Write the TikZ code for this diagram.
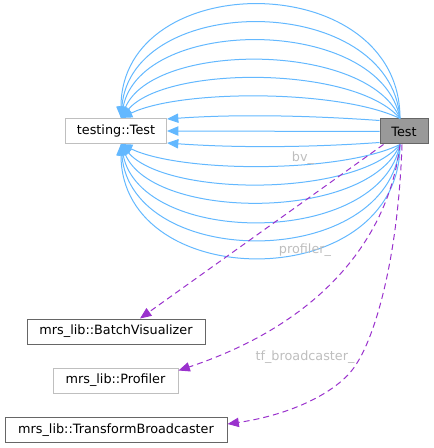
\documentclass[tikz,border=0pt]{standalone}
\usepackage{fontspec}
\setmainfont{DejaVu Sans}
\usetikzlibrary{arrows.meta,calc}

\definecolor{edgeblue}{HTML}{63B8FF}
\definecolor{edgeorchid}{HTML}{9A32CD}
\definecolor{boxdark}{HTML}{666666}
\definecolor{boxlight}{HTML}{BFBFBF}
\definecolor{boxfill}{HTML}{999999}
\definecolor{labelgrey}{HTML}{BEBEBE}

\tikzset{
  classbox/.style={draw=boxdark, fill=white, line width=0.75pt, inner sep=0pt,
    minimum height=18.75pt, font=\fontsize{9.6}{11}\selectfont},
  extbox/.style={classbox, draw=boxlight},
  inherit/.style={draw=edgeblue, line width=0.75pt, -{Triangle[length=8.5pt,width=7pt]}, fill=none},
  usage/.style={draw=edgeorchid, line width=0.75pt, dash pattern=on 4.5pt off 3pt,
    -{Triangle[length=8.5pt,width=7pt,fill=edgeorchid]}},
  edgelabel/.style={text=labelgrey, inner sep=0.75pt, font=\fontsize{9.6}{11}\selectfont}
}

\begin{document}
\begin{tikzpicture}[x=0.75pt,y=0.75pt,yscale=-1,xscale=1]
\useasboundingbox (0,0) rectangle (433,448);

% Class nodes
\node [classbox, fill=boxfill, minimum width=36pt] (test) at (404,131.5) {Test};
\node [extbox, minimum width=75.75pt] (tt) at (116,131) {testing::Test};
\node [classbox, minimum width=133.5pt] (bv) at (116,331.5) {mrs\_lib::BatchVisualizer};
\node [extbox, minimum width=93.75pt] (prof) at (115.5,380.5) {mrs\_lib::Profiler};
\node [classbox, minimum width=166.5pt] (tb) at (116,430) {mrs\_lib::TransformBroadcaster};

% Inheritance arcs, above and below
\foreach \a/\c in {60/29, 45/53, 32/77, 20/103, 10/127, 0/151}{
  \draw [inherit] ($(test.north)+(-4,0)$) .. controls +(-\a,-\c) and +(\a,-\c) .. ($(tt.north)+(5,0)$);
  \draw [inherit] ($(test.south)+(-4,0)$) .. controls +(-\a,\c) and +(\a,\c) .. ($(tt.south)+(5,0)$);
}
%Straight Lines
\draw [inherit] ($(test.north west)+(0,2)$) .. controls +(-70,-5) and +(70,-5) .. ($(tt.north east)+(0,1)$);
\draw [inherit] ($(test.south west)+(0,-2)$) .. controls +(-70,5) and +(70,5) .. ($(tt.south east)+(0,-1)$);
\draw [inherit] (test.west) -- (tt.east);

% Usage edges
\draw [usage] ($(test.south west)+(4,0)$) -- ($(bv.north)+(24,0)$);
\draw [usage] ($(test.south)+(-4,0)$) .. controls (390,230) and (330,320) .. ($(prof.east)+(0,-10)$);
\draw [usage] ($(test.south)+(-2,0)$) .. controls (398,260) and (375,335) .. (357,363)
  .. controls (340,392) and (290,415) .. ($(tb.east)+(0,-6)$);

% Text Node
\node [edgelabel] (lbv) at (303,158) {bv\_};
% Text Node
\node [edgelabel] (lprof) at (305,250) {profiler\_};
% Text Node
\node [edgelabel] (ltb) at (305,357) {tf\_broadcaster\_};

\end{tikzpicture}
\end{document}
